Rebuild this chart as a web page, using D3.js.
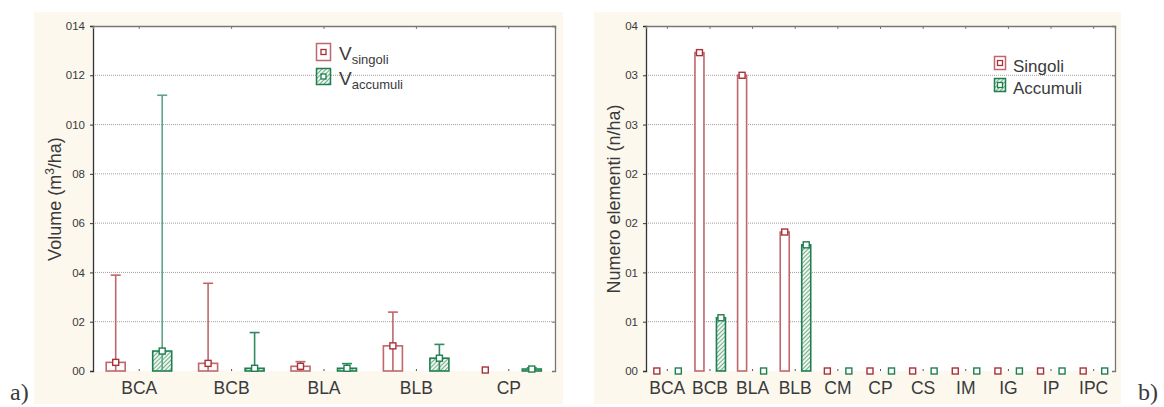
<!DOCTYPE html>
<html><head><meta charset="utf-8">
<script src="https://cdn.jsdelivr.net/npm/d3@7"></script>
<style>
body{margin:0;background:#fff;}
text{font-family:"Liberation Sans",Arial,sans-serif;fill:#3a3a3a;}
</style></head>
<body>
<svg id="chart" width="1164" height="407"></svg>
<script>
// ---- Panel a) data ----
const catsA = ["BCA","BCB","BLA","BLB","CP"];
const singoliA = [0.0035, 0.0031, 0.0019, 0.0102, 0.0004];
const singoliErrA = [0.0389, 0.0356, 0.0038, 0.0239, 0.0004];
const accumuliA = [0.0081, 0.0011, 0.0011, 0.0052, 0.0008];
const accumuliErrA = [0.1119, 0.0156, 0.0030, 0.0108, 0.0013];
const ticksA = [0,0.02,0.04,0.06,0.08,0.10,0.12,0.14];
const tickLabelsA = ["00","02","04","06","08","010","012","014"];

// ---- Panel b) data ----
const catsB = ["BCA","BCB","BLA","BLB","CM","CP","CS","IM","IG","IP","IPC"];
const singoliB = [0, 0.323, 0.300, 0.141, 0, 0, 0, 0, 0, 0, 0];
const accumuliB = [0, 0.054, 0, 0.128, 0, 0, 0, 0, 0, 0, 0];
const ticksB = [0,0.05,0.10,0.15,0.20,0.25,0.30,0.35];
const tickLabelsB = ["00","01","01","02","02","03","03","04"];

const RED = "#a8323a", RED_L = "#c0666c", GREEN = "#1f7f4f", GREEN_L = "#5fa487";
const svg = d3.select("#chart");
const defs = svg.append("defs");
const pat = defs.append("pattern").attr("id","hatch").attr("patternUnits","userSpaceOnUse")
  .attr("width",3).attr("height",3).attr("patternTransform","rotate(45)");
pat.append("rect").attr("width",3).attr("height",3).attr("fill","#eef5ef");
pat.append("line").attr("x1",0).attr("y1",0).attr("x2",0).attr("y2",3).attr("stroke","#3d8f62").attr("stroke-width",1.4);

function panel(o){
  const g = svg.append("g");
  g.append("rect").attr("x",o.bx0).attr("y",12).attr("width",o.bx1-o.bx0).attr("height",392).attr("fill","#fcf8ee");
  g.append("rect").attr("x",o.x0).attr("y",26).attr("width",o.x1-o.x0).attr("height",345).attr("fill","#fff");
  const x = d3.scaleBand().domain(o.cats).range([o.x0,o.x1]);
  const y = d3.scaleLinear().domain([0,o.ymax]).range([371,26]);
  // grid
  g.append("g").selectAll("line").data(o.ticks.slice(1,-1)).join("line")
    .attr("x1",o.x0).attr("x2",o.x1).attr("y1",d=>y(d)).attr("y2",d=>y(d))
    .attr("stroke","#a99c9c").attr("stroke-width",1).attr("stroke-dasharray","1,1");
  // left axis
  const ya = d3.axisLeft(y).tickValues(o.ticks).tickSize(3).tickFormat((d,i)=>o.labels[i]);
  const yg = g.append("g").attr("transform",`translate(${o.x0},0)`).call(ya);
  yg.select(".domain").attr("stroke","#333").attr("stroke-width",1.3);
  yg.selectAll("line").attr("stroke","#333");
  yg.selectAll("text").attr("font-size",11.5).attr("fill","#444").attr("dx",-2).style("font-family","Liberation Sans, Arial");
  // right axis
  const yr = g.append("g").attr("transform",`translate(${o.x1},0)`).call(d3.axisLeft(y).tickValues(o.ticks).tickSize(3).tickFormat(""));
  yr.select(".domain").attr("stroke","#777").attr("stroke-width",1.3);
  yr.selectAll("line").attr("stroke","#777");
  // top axis
  const tg = g.append("g").attr("transform","translate(0,26)").call(d3.axisBottom(x).tickSize(3).tickFormat(""));
  tg.select(".domain").attr("stroke","#777").attr("stroke-width",1.3);
  tg.selectAll("line").attr("stroke","#777");
  // bottom axis
  const bg = g.append("g").attr("transform","translate(0,371)").call(d3.axisTop(x).tickSize(2).tickFormat(""));
  bg.selectAll("line").attr("stroke","#555");
  bg.select(".domain").remove();
  g.append("g").selectAll("text").data(o.cats).join("text")
    .attr("x",d=>x(d)+x.bandwidth()/2).attr("y",394).attr("text-anchor","middle")
    .attr("font-size",17.5).text(d=>d);
  // series
  o.series.forEach(s=>{
    const sg = g.append("g");
    s.vals.forEach((v,i)=>{
      const cx = x(o.cats[i]) + x.bandwidth()/2 + s.off;
      const h = y(0)-y(v);
      if (h > 1.5) {
        sg.append("rect").attr("x",cx - o.bw/2).attr("y",y(v)).attr("width",o.bw).attr("height",h)
          .attr("fill",s.fill).attr("stroke",s.barStroke).attr("stroke-width",1.6);
      }
      if (s.err) {
        const e = s.err[i];
        if (y(0)-y(e) > 3) {
          sg.append("line").attr("x1",cx).attr("x2",cx).attr("y1",y(0)).attr("y2",y(e)).attr("stroke",s.errStroke[i]).attr("stroke-width",1.6);
          sg.append("line").attr("x1",cx-5).attr("x2",cx+5).attr("y1",y(e)).attr("y2",y(e)).attr("stroke",s.errStroke[i]).attr("stroke-width",1.6);
        }
      }
      sg.append("rect").attr("x",cx-3).attr("y",y(v)-3).attr("width",6).attr("height",6)
        .attr("fill","#fff").attr("stroke",s.color).attr("stroke-width",1.4);
    });
  });
  // y title
  g.append("text").attr("transform",`translate(${o.tx},199) rotate(-90)`).attr("text-anchor","middle")
    .attr("font-size",o.tfs).html(o.title);
  return {g,x,y};
}

const A = panel({bx0:34,bx1:563,x0:93,x1:555,cats:catsA,ymax:0.14,ticks:ticksA,labels:tickLabelsA,bw:19,tx:61,tfs:18,
  title:'Volume (m<tspan dy="-7" font-size="12">3</tspan><tspan dy="7">/ha)</tspan>',
  series:[
    {vals:singoliA,err:singoliErrA,off:-23.5,fill:"#fff",barStroke:RED_L,color:RED,errStroke:singoliA.map(()=>RED_L)},
    {vals:accumuliA,err:accumuliErrA,off:23,fill:"url(#hatch)",barStroke:GREEN,color:GREEN,errStroke:accumuliA.map((d,i)=>i===0?GREEN_L:"#2f8a60")}
  ]});

const B = panel({bx0:594,bx1:1121,x0:646,x1:1115,cats:catsB,ymax:0.35,ticks:ticksB,labels:tickLabelsB,bw:9,tx:620,tfs:18,
  title:'Numero elementi (n/ha)',
  series:[
    {vals:singoliB,off:-10.5,fill:"#fff",barStroke:RED_L,color:RED},
    {vals:accumuliB,off:11,fill:"url(#hatch)",barStroke:GREEN,color:GREEN}
  ]});

// legends
function legendBox(g,x0,y0,w,h,fill,stroke,inner){
  g.append("rect").attr("x",x0).attr("y",y0).attr("width",w).attr("height",h).attr("fill",fill).attr("stroke",stroke).attr("stroke-width",1.5);
  g.append("rect").attr("x",x0+w/2-2.5).attr("y",y0+h/2-2.5).attr("width",5).attr("height",5).attr("fill","#fff").attr("stroke",inner).attr("stroke-width",1.3);
}
legendBox(A.g,316.5,43.5,14,17,"#fff",RED_L,RED);
legendBox(A.g,316.5,68.5,14,16,"url(#hatch)",GREEN,GREEN);
A.g.append("text").attr("x",339).attr("y",60).attr("font-size",19).html('V<tspan dy="4" font-size="13">singoli</tspan>');
A.g.append("text").attr("x",339).attr("y",85).attr("font-size",19).html('V<tspan dy="4" font-size="13">accumuli</tspan>');
legendBox(B.g,994.5,56.5,11,13,"#fff",RED_L,RED);
legendBox(B.g,994.5,78.5,11,13,"url(#hatch)",GREEN,GREEN);
B.g.append("text").attr("x",1013).attr("y",72).attr("font-size",17).text("Singoli");
B.g.append("text").attr("x",1013).attr("y",94).attr("font-size",17).text("Accumuli");

// panel letters
svg.append("text").attr("x",10).attr("y",400).attr("font-size",24).style("font-family","Liberation Serif, Times New Roman, serif").attr("fill","#222").text("a)");
svg.append("text").attr("x",1138).attr("y",400).attr("font-size",24).style("font-family","Liberation Serif, Times New Roman, serif").attr("fill","#222").text("b)");
</script>
</body></html>
